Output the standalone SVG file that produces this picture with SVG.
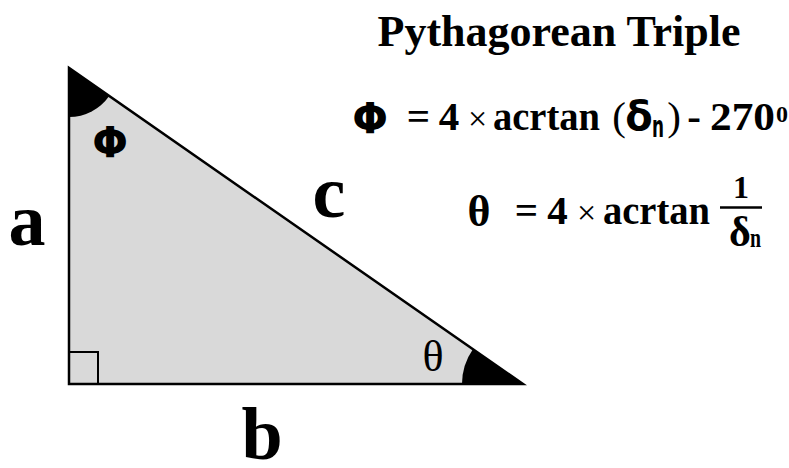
<svg xmlns="http://www.w3.org/2000/svg" width="789" height="468" viewBox="0 0 789 468">
<style>
.serif{font-family:"Liberation Serif","Times New Roman",serif;fill:#000}
.b{font-weight:bold}
.sans{font-family:"DejaVu Sans","Liberation Sans",sans-serif;font-weight:bold;fill:#000}
.big{font-size:74px;font-weight:bold;text-anchor:middle}
.eq{font-size:41px}
.mid{text-anchor:middle}
</style>
<rect width="789" height="468" fill="#fff"/>
<g id="triangle">
<polygon points="69,68 69,384 523,384" fill="#d9d9d9" stroke="#000" stroke-width="2.5" stroke-linejoin="miter"/>
<rect x="69" y="352" width="29" height="32" fill="none" stroke="#000" stroke-width="2"/>
<path d="M69,68 L69,117 A49,49 0 0 0 109.2,96 Z" fill="#000"/>
<path d="M523,384 L462,384 A61,61 0 0 1 472.9,349.2 Z" fill="#000"/>
<text class="sans mid" x="110" y="157" font-size="42">Φ</text>
<text class="serif mid" x="433" y="371" font-size="44">θ</text>
</g>
<g id="labels">
<text class="serif big" x="27" y="245">a</text>
<text class="serif big" x="262" y="459">b</text>
<text class="serif big" x="329" y="217">c</text>
<text class="serif b mid" x="559" y="46" font-size="44">Pythagorean Triple</text>
</g>
<g id="formula-phi">
<text class="sans mid" x="370" y="133" font-size="42">Φ</text>
<text class="serif b eq mid" x="418.5" y="130">=</text>
<text class="serif b eq mid" x="449" y="130">4</text>
<text class="serif mid" x="477.5" y="130" font-size="34">×</text>
<text class="serif b eq" x="493" y="130" textLength="107" lengthAdjust="spacingAndGlyphs">acrtan</text>
<text class="serif eq mid" x="619" y="130">(</text>
<text class="sans mid" x="639" y="130" font-size="40">δ</text>
<text class="sans" x="652" y="137" font-size="30" textLength="12" lengthAdjust="spacingAndGlyphs">n</text>
<text class="serif eq mid" x="674" y="130">)</text>
<text class="serif b eq mid" x="694" y="130">-</text>
<text class="serif b eq" x="710" y="130" textLength="65" lengthAdjust="spacingAndGlyphs">270</text>
<text class="serif b mid" x="782" y="122" font-size="24">0</text>
</g>
<g id="formula-theta">
<text class="serif b mid" x="479" y="226" font-size="44">θ</text>
<text class="serif b eq mid" x="526.5" y="224">=</text>
<text class="serif b eq mid" x="557.5" y="224">4</text>
<text class="serif mid" x="586.5" y="224" font-size="34">×</text>
<text class="serif b eq" x="603" y="224" textLength="107" lengthAdjust="spacingAndGlyphs">acrtan</text>
<text class="serif b mid" x="741" y="198" font-size="32">1</text>
<line x1="720" y1="207.5" x2="762" y2="207.5" stroke="#000" stroke-width="2.5"/>
<text class="serif b mid" x="740" y="246" font-size="42">δ</text>
<text class="serif b" x="750" y="247" font-size="28" textLength="11" lengthAdjust="spacingAndGlyphs">n</text>
</g>
</svg>
